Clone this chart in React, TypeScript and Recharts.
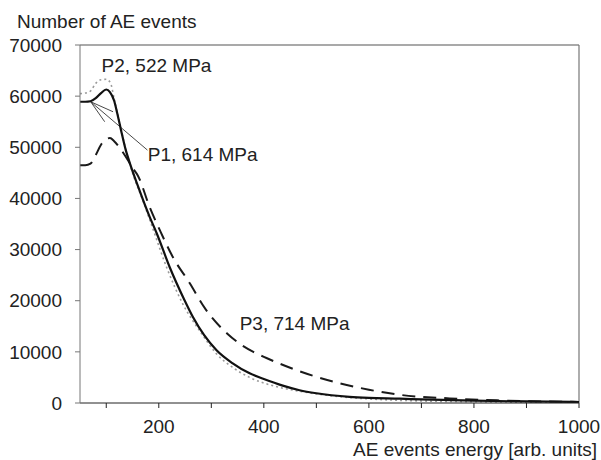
import React from 'react';
import { LineChart, Line, XAxis, YAxis, ReferenceLine, ReferenceDot } from 'recharts';

// P2-like solid curve
const solidEnergy = [50, 60, 70, 80, 90, 100, 107, 115, 121, 128, 137, 143, 160, 183, 196, 221, 249, 265, 310, 340, 373, 400, 436, 468, 500, 563, 600, 659, 700, 800, 900, 1000];
const solidCount = [58900, 58900, 59000, 59600, 60600, 61300, 60800, 59100, 56600, 53400, 49500, 47500, 42500, 36300, 33200, 26500, 20100, 16800, 10300, 7800, 5800, 4700, 3400, 2500, 1900, 1200, 1000, 850, 700, 450, 300, 200];

// P1-like dotted gray curve
const dottedEnergy = [50, 60, 70, 80, 90, 100, 108, 115, 125, 135, 150, 170, 189, 215, 246, 280, 310, 340, 373, 420, 468, 520, 600, 700, 800, 900, 1000];
const dottedCount = [60500, 60600, 61000, 62500, 63200, 63300, 62600, 59500, 55000, 50500, 45000, 39500, 34000, 26500, 19300, 13800, 9600, 7000, 5000, 3300, 2300, 1500, 800, 400, 250, 150, 100];

// P3 dashed curve
const dashedEnergy = [50, 60, 70, 80, 90, 100, 107, 115, 125, 135, 150, 160, 183, 202, 227, 259, 288, 303, 330, 354, 380, 405, 468, 539, 600, 659, 754, 850, 1000];
const dashedCount = [46500, 46500, 46800, 48500, 50500, 51600, 51800, 51200, 50000, 48500, 46000, 44500, 38200, 33800, 28500, 23400, 18500, 16500, 13600, 11600, 10000, 8800, 6200, 4000, 2600, 1600, 900, 500, 200];

const xTicks = [100, 200, 300, 400, 500, 600, 700, 800, 900, 1000];
const yTicks = [0, 10000, 20000, 30000, 40000, 50000, 60000, 70000];

const labelP2 = { e: 91, v: 64700, text: 'P2, 522 MPa' };
const labelP1 = { e: 179, v: 47300, text: 'P1, 614 MPa' };
const labelP3 = { e: 354, v: 14230, text: 'P3, 714 MPa' };

const leaderStart = { e: 70.4, v: 58900 };
const leaderEnds = [
  { e: 178.4, v: 49450 },
  { e: 112.9, v: 56950 },
  { e: 97, v: 55000 },
];

const build = (xs: number[], ys: number[]) => xs.map((x, i) => ({ x, y: ys[i] }));
const solidData = build(solidEnergy, solidCount);
const dottedData = build(dottedEnergy, dottedCount);
const dashedData = build(dashedEnergy, dashedCount);

const FONT = 'Liberation Sans, Arial, sans-serif';
const FS = 19;

const textLabel = (text: string) => (props: any) => {
  const vb = props.viewBox || {};
  return (
    <text x={vb.x} y={vb.y} fontFamily={FONT} fontSize={FS} fill="#222">
      {text}
    </text>
  );
};

export default function App() {
  return (
    <div style={{ position: 'absolute', left: 0, top: 0, width: 601, height: 460, background: '#fff' }}>
      <LineChart width={601} height={460} margin={{ top: 45, right: 22, bottom: 27, left: 20 }}>
        <XAxis
          type="number"
          dataKey="x"
          domain={[50, 1000]}
          ticks={xTicks}
          allowDataOverflow
          tickFormatter={(v: number) => (v % 200 === 0 ? String(v) : '')}
          tickSize={5}
          tickMargin={12}
          height={30}
          stroke="#222"
          tick={{ fill: '#222', fontSize: FS, fontFamily: FONT }}
          label={{
            content: (p: any) => {
              const vb = p.viewBox;
              return (
                <text x={vb.x + vb.width + 18} y={456} textAnchor="end" fontFamily={FONT} fontSize={FS} fill="#222">
                  AE events energy [arb. units]
                </text>
              );
            },
          }}
        />
        <YAxis
          type="number"
          dataKey="y"
          domain={[0, 70000]}
          ticks={yTicks}
          allowDataOverflow
          width={60}
          tickSize={5}
          tickMargin={13}
          stroke="#777"
          tick={{ fill: '#222', fontSize: FS, fontFamily: FONT }}
          label={{
            content: () => (
              <text x={17} y={28} fontFamily={FONT} fontSize={FS} fill="#222">
                Number of AE events
              </text>
            ),
          }}
        />
        <ReferenceLine y={70000} stroke="#555" strokeWidth={1.2} />
        <ReferenceLine x={1000} stroke="#777" strokeWidth={1.2} />
        {leaderEnds.map((end, i) => (
          <ReferenceLine
            key={i}
            segment={[{ x: leaderStart.e, y: leaderStart.v }, { x: end.e, y: end.v }]}
            stroke="#333"
            strokeWidth={0.9}
          />
        ))}
        <Line
          data={dottedData}
          dataKey="y"
          type="monotone"
          stroke="#9a9a9a"
          strokeWidth={1.6}
          strokeDasharray="2 3"
          dot={false}
          isAnimationActive={false}
        />
        <Line
          data={dashedData}
          dataKey="y"
          type="monotone"
          stroke="#1a1a1a"
          strokeWidth={2}
          strokeDasharray="13 8"
          dot={false}
          isAnimationActive={false}
        />
        <Line
          data={solidData}
          dataKey="y"
          type="monotone"
          stroke="#111"
          strokeWidth={2.2}
          dot={false}
          isAnimationActive={false}
        />
        <ReferenceDot x={labelP2.e} y={labelP2.v} r={0} stroke="none" label={textLabel(labelP2.text)} />
        <ReferenceDot x={labelP1.e} y={labelP1.v} r={0} stroke="none" label={textLabel(labelP1.text)} />
        <ReferenceDot x={labelP3.e} y={labelP3.v} r={0} stroke="none" label={textLabel(labelP3.text)} />
      </LineChart>
    </div>
  );
}
